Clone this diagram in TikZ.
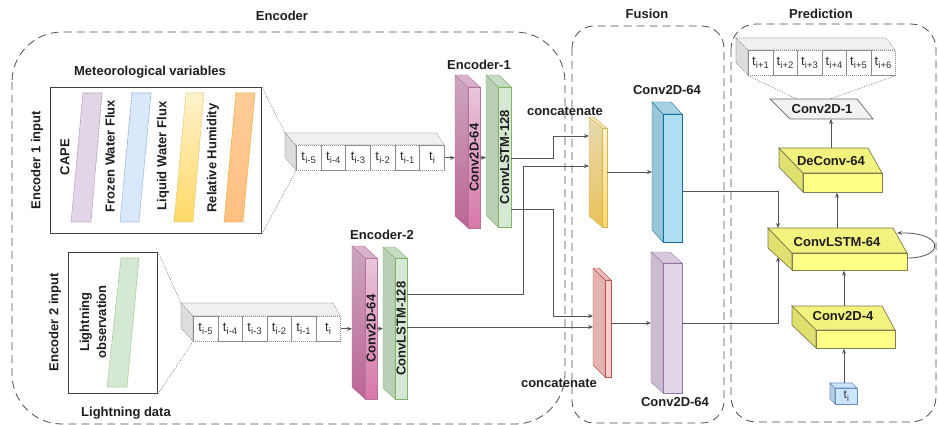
\documentclass[tikz,border=0pt]{standalone}
\usepackage{fontspec}
\setmainfont{Liberation Sans}
\usetikzlibrary{arrows.meta,calc}
\definecolor{txt}{HTML}{1E1E1E}
\definecolor{regc}{HTML}{4D4D4D}
\definecolor{connc}{HTML}{555555}
\definecolor{projc}{HTML}{707070}
\definecolor{stripc}{HTML}{8C8C8C}
\definecolor{celltxt}{HTML}{333333}
\definecolor{stripside}{HTML}{DDDDDD}
\definecolor{striptop}{HTML}{F0F0F0}
\definecolor{pinkS}{HTML}{B5739D}
\definecolor{pinkF1}{HTML}{E8C6DA}
\definecolor{pinkF2}{HTML}{D877A8}
\definecolor{pinkD1}{HTML}{CDA6BF}
\definecolor{pinkD2}{HTML}{BB6594}
\definecolor{pinkT}{HTML}{D9B3CB}
\definecolor{greenS}{HTML}{82B366}
\definecolor{greenF}{HTML}{D5E8D4}
\definecolor{greenD}{HTML}{B9CFB8}
\definecolor{greenT}{HTML}{C7DCC6}
\definecolor{yelS}{HTML}{D6B656}
\definecolor{yelF1}{HTML}{FFF2CC}
\definecolor{yelF2}{HTML}{FFD966}
\definecolor{yelD1}{HTML}{E8DAB0}
\definecolor{yelD2}{HTML}{E8C25A}
\definecolor{yelT}{HTML}{F2E3B5}
\definecolor{blueS}{HTML}{10739E}
\definecolor{blueF}{HTML}{B1DDF0}
\definecolor{blueD}{HTML}{9DC5D8}
\definecolor{blueT}{HTML}{A8D1E4}
\definecolor{roseS}{HTML}{B85450}
\definecolor{roseF}{HTML}{F8CECC}
\definecolor{roseD}{HTML}{E3B3B1}
\definecolor{roseT}{HTML}{EEC1BF}
\definecolor{purpS}{HTML}{9673A6}
\definecolor{purpF}{HTML}{E1D5E7}
\definecolor{purpD}{HTML}{CABDD1}
\definecolor{purpT}{HTML}{D6C9DC}
\definecolor{ybS}{HTML}{7E7E4E}
\definecolor{ybF}{HTML}{FFFF88}
\definecolor{ybT}{HTML}{F2F27E}
\definecolor{ybD}{HTML}{E0E070}
\definecolor{capeC}{HTML}{E1D5E7}
\definecolor{frozC}{HTML}{DAE8FC}
\definecolor{frozS}{HTML}{6C8EBF}
\definecolor{rhC1}{HTML}{FFCC99}
\definecolor{rhC2}{HTML}{FFBF80}
\definecolor{rhS}{HTML}{D79B00}
\definecolor{tiF}{HTML}{CCE5FF}
\definecolor{tiD}{HTML}{B5CFEA}
\definecolor{tiS}{HTML}{6C8EBF}
\definecolor{c1F}{HTML}{F2F2F2}
\definecolor{c1S}{HTML}{666666}
\newcommand\ts[1]{t\kern0.2pt\raisebox{-2.8pt}{\fontsize{9.5}{10}\selectfont #1}}
% vertical prism: name, x, y (front top-left), w, h, dx, dy, colour prefix, text
\newcommand\vprism[9]{%
  \draw[#8side] (#2,#3) -- (#2-#6,#3-#7) -- (#2-#6,#3+#5-#7) -- (#2,#3+#5) -- cycle;
  \draw[#8top] (#2,#3) -- (#2-#6,#3-#7) -- (#2+#4-#6,#3-#7) -- (#2+#4,#3) -- cycle;
  \node[#8front, minimum width=#4, minimum height=#5, anchor=north west, inner sep=0] (#1) at (#2,#3) {};
  \coordinate (#1-l) at (#2-#6,#3+#5/2);
  \node[lbl, rotate=90] at (#1.center) {#9};
}
% time strip: name, x, y, w, h, back-left x, back top y, back-right x, labels
\newcommand\tstrip[9]{%
  \draw[stripline, fill=stripside] (#2,#3) -- (#6,#7) -- (#6,#7+#5) -- (#2,#3+#5) -- cycle;
  \draw[stripline, fill=striptop] (#2,#3) -- (#6,#7) -- (#8,#7) -- (#2+#4,#3) -- cycle;
  \node[stripline, fill=white, minimum width=#4, minimum height=#5, anchor=north west, inner sep=0] (#1) at (#2,#3) {};
  \coordinate (#1-bl) at (#6,#7);
  \foreach \lab [count=\k] in {#9} {
    \node[stripline, cell, minimum width=#4/6, minimum height=#5, anchor=north west, inner sep=0] (#1-\k) at ({#2+(\k-1)*#4/6},#3) {\lab};
  }
}
% flat box: name, TLx, TRx, topY, FLx, FRx, frontTopY, bottomY, leftBottomY
\newcommand\flatbox[9]{%
  \draw[ybside] (#2,#4) -- (#5,#7) -- (#5,#8) -- (#2,#9) -- cycle;
  \draw[ybtop] (#2,#4) -- (#3,#4) -- (#6,#7) -- (#5,#7) -- cycle;
  \node[ybfront, minimum width=#6-#5, minimum height=#8-#7, anchor=north west, inner sep=0] (#1) at (#5,#7) {};
}
\begin{document}
\begin{tikzpicture}[x=1pt,y=-1pt,
  lbl/.style={font=\fontsize{13}{16}\selectfont\bfseries, text=txt, inner sep=0},
  region/.style={draw=regc, dash pattern=on 8pt off 5pt, line width=0.8pt},
  conn/.style={draw=connc, line width=0.8pt, -{Stealth[length=5pt,width=4pt]}},
  proj/.style={draw=projc, line width=0.6pt, dash pattern=on 1pt off 1.5pt},
  stripline/.style={draw=stripc, line width=0.6pt, dash pattern=on 1pt off 1pt},
  cell/.style={font=\fontsize{13}{15}\selectfont, text=celltxt},
  pinkfront/.style={draw=pinkS, top color=pinkF1, bottom color=pinkF2},
  pinkside/.style={draw=pinkS, top color=pinkD1, bottom color=pinkD2},
  pinktop/.style={draw=pinkS, fill=pinkT},
  greenfront/.style={draw=greenS, fill=greenF},
  greenside/.style={draw=greenS, fill=greenD},
  greentop/.style={draw=greenS, fill=greenT},
  yelfront/.style={draw=yelS, top color=yelF1, bottom color=yelF2},
  yelside/.style={draw=yelS, top color=yelD1, bottom color=yelD2},
  yeltop/.style={draw=yelS, fill=yelT},
  bluefront/.style={draw=blueS, fill=blueF},
  blueside/.style={draw=blueS, fill=blueD},
  bluetop/.style={draw=blueS, fill=blueT},
  rosefront/.style={draw=roseS, fill=roseF},
  roseside/.style={draw=roseS, fill=roseD},
  rosetop/.style={draw=roseS, fill=roseT},
  purpfront/.style={draw=purpS, fill=purpF},
  purpside/.style={draw=purpS, fill=purpD},
  purptop/.style={draw=purpS, fill=purpT},
  ybfront/.style={draw=ybS, fill=ybF, line width=0.7pt},
  ybside/.style={draw=ybS, fill=ybD, line width=0.7pt},
  ybtop/.style={draw=ybS, fill=ybT, line width=0.7pt},
  varstrip/.style={line width=0.6pt, dash pattern=on 1pt off 1pt},
  inbox/.style={draw=black!75, line width=0.9pt, inner sep=0, anchor=north west}
]
\useasboundingbox (0,0) rectangle (938,425);

% regions
\draw[region, rounded corners=50] (12,32) rectangle (565,424);
\draw[region, rounded corners=22] (572,26) rectangle (724,423);
\draw[region, rounded corners=25] (731,24) rectangle (936,422);
\node[lbl] (tEnc) at (282,16) {Encoder};
\node[lbl] (tFus) at (647,14) {Fusion};
\node[lbl] (tPred) at (821,14) {Prediction};

% meteorological input
\node[lbl] (tMet) at (150,72) {Meteorological variables};
\node[inbox, minimum width=211, minimum height=146] (met) at (50,87) {};
\node[lbl, rotate=90] (tIn1) at (37,160) {Encoder 1 input};
\draw[varstrip, draw=purpS, fill=capeC] (83,93) -- (102,93) -- (91,222) -- (71,222) -- cycle;
\draw[varstrip, draw=frozS, fill=frozC] (132,93) -- (151,93) -- (139,222) -- (120,222) -- cycle;
\draw[varstrip, draw=yelS, top color=yelF1, bottom color=yelF2] (186,93) -- (204,93) -- (193,222) -- (174,222) -- cycle;
\draw[varstrip, draw=rhS, top color=rhC1, bottom color=rhC2] (236,93) -- (255,93) -- (243,222) -- (224,222) -- cycle;
\node[lbl, rotate=90] (tCape) at (65,157) {CAPE};
\node[lbl, rotate=90] (tFroz) at (110,156) {Frozen Water Flux};
\node[lbl, rotate=90] (tLiq) at (163,156) {Liquid Water Flux};
\node[lbl, rotate=90] (tRH) at (213,158) {Relative Humidity};

% lightning input
\node[inbox, minimum width=89, minimum height=141] (lbox) at (68,252) {};
\node[lbl, rotate=90] (tIn2) at (55,322) {Encoder 2 input};
\draw[varstrip, draw=greenS, fill=greenF] (121,258) -- (139,258) -- (127,387) -- (107,387) -- cycle;
\node[lbl, rotate=90, align=center, font=\fontsize{13}{17}\selectfont\bfseries] (tObs) at (93,322) {Lightning\\observation};
\node[lbl] (tLd) at (126,413) {Lightning data};

% time strips
\tstrip{s1}{296}{145}{148}{25}{285}{133}{437}{\ts{i-5},\ts{i-4},\ts{i-3},\ts{i-2},\ts{i-1},\ts{i}}
\tstrip{s2}{193}{316}{147}{25}{181}{303}{333}{\ts{i-5},\ts{i-4},\ts{i-3},\ts{i-2},\ts{i-1},\ts{i}}
\draw[proj] (met.north east) -- (s1-bl);
\draw[proj] (met.south east) -- (s1.south west);
\draw[proj] (lbox.north east) -- (s2-bl);
\draw[proj] (lbox.south east) -- (s2.south west);

% encoders
\node[lbl] (tE1) at (479,65) {Encoder-1};
\node[lbl] (tE2) at (382,235) {Encoder-2};
\vprism{e1c}{468}{87}{12}{141}{13}{12}{pink}{Conv2D-64}
\vprism{e1l}{498}{87}{13}{140}{12}{12}{green}{ConvLSTM-128}
\vprism{e2c}{365}{258}{12}{141}{13}{12}{pink}{Conv2D-64}
\vprism{e2l}{395}{258}{12}{141}{12}{11}{green}{ConvLSTM-128}
\draw[conn] (s1.east) -- (e1c-l |- s1.east);
\draw[conn] (e1c.east) -- (e1l-l |- e1c.east);
\draw[conn] (s2.east) -- (e2c-l |- s2.east);
\draw[conn] (e2c.east) -- (e2l-l |- e2c.east);

% fusion
\vprism{cat1}{602}{128}{5}{99}{13}{11}{yel}{}
\vprism{blu}{663}{114}{19}{128}{11}{12}{blue}{}
\vprism{cat2}{605}{280}{6}{97}{12}{12}{rose}{}
\vprism{pur}{663}{263}{19}{130}{12}{11}{purp}{}
\node[lbl] (tCat1) at (565,111) {concatenate};
\node[lbl] (tCat2) at (559,383) {concatenate};
\node[lbl] (tB) at (667,90) {Conv2D-64};
\node[lbl] (tP) at (675,402) {Conv2D-64};

\draw[conn] (e1l.east |- 0,158) -- (553,158) |- (cat1-l |- 0,136);
\draw[conn] (e2l.east |- 0,294) -- (523,294) |- (cat1-l |- 0,166);
\draw[conn] (e1l.east |- 0,209) -- (553,209) |- (cat2-l |- 0,316);
\draw[conn] (e2l.east |- 0,327) -- (cat2-l |- 0,327);
\draw[conn] (cat1.east |- 0,172) -- (blu-l |- 0,172);
\draw[conn] (cat2.east |- 0,323) -- (pur-l |- 0,323);

% prediction
\flatbox{dc}{779}{868}{148}{803}{882}{173}{192}{167}
\flatbox{l64}{768}{893}{228}{792}{907}{253}{270}{248}
\flatbox{c4}{792}{882}{306}{816}{895}{330}{348}{325}
\node[lbl] (tDc) at (831,161) {DeConv-64};
\node[lbl] (tL64) at (837,242) {ConvLSTM-64};
\node[lbl] (tC4) at (843,316) {Conv2D-4};

\draw[c1S, fill=c1F, line width=0.7pt] (770,99) -- (857,99) -- (873,119) -- (790,119) -- cycle;
\node[lbl] (c1) at (822,109) {Conv2D-1};
\coordinate (c1a) at (797,99);
\coordinate (c1b) at (830,99);
\coordinate (c1bot) at (831,119);

\tstrip{so}{748}{50}{147}{25}{736}{38}{886}{\ts{i+1},\ts{i+2},\ts{i+3},\ts{i+4},\ts{i+5},\ts{i+6}}
\draw[proj] (so.south west) -- (c1a);
\draw[proj] (so.south east) -- (c1b);

% t_i cube
\draw[tiS, fill=tiD, line width=0.6pt] (835,388) -- (830,383) -- (830,399) -- (835,404) -- cycle;
\draw[tiS, fill=tiF, line width=0.6pt] (835,388) -- (830,383) -- (852,383) -- (857,388) -- cycle;
\node[draw=tiS, fill=tiF, line width=0.6pt, minimum width=22, minimum height=16, inner sep=0, anchor=north west, font=\fontsize{12}{13}\selectfont, text=celltxt] (ti) at (835,388) {t\raisebox{-2.5pt}{\fontsize{8.5}{9}\selectfont i}};
\coordinate (tiup) at (844,383);

\coordinate (l64in1) at (778,228);
\coordinate (l64in2) at (778,257);
\coordinate (l64r) at (907,258);
\coordinate (l64loop) at (897,233);
\coordinate (l64up) at (837,228);
\coordinate (c4up) at (844,306);
\coordinate (dcup) at (831,148);

\draw[conn] (blu.east |- 0,191) -| (l64in1);
\draw[conn] (pur.east |- 0,323) -| (l64in2);
\draw[conn] (tiup) -- (tiup |- c4.south);
\draw[conn] (c4up) -- (c4up |- l64.south);
\draw[conn] (l64up) -- (l64up |- dc.south);
\draw[conn] (dcup) -- (c1bot);
\draw[conn] (l64r) .. controls (945,258) and (945,232) .. (l64loop);
\end{tikzpicture}
\end{document}
